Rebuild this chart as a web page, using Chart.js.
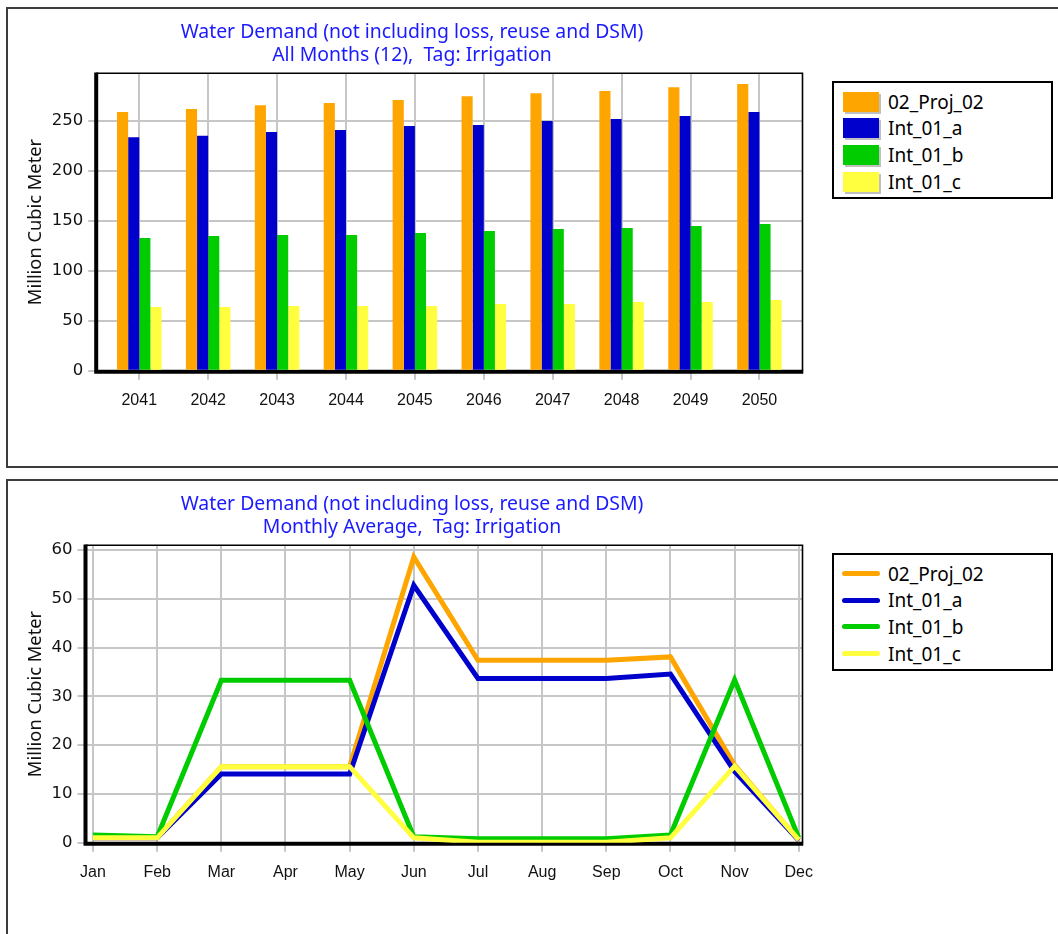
<!DOCTYPE html>
<html>
<head>
<meta charset="utf-8">
<script src="https://cdn.jsdelivr.net/npm/chart.js@4.4.1/dist/chart.umd.min.js"></script>
<style>
  body { margin: 0; background: #fff; width: 1058px; height: 934px; overflow: hidden; position: relative; font-family: 'Noto Sans', sans-serif; }
  .panel { position: absolute; left: 6px; width: 1070px; border: 2px solid #3c3c3c; box-sizing: border-box; }
  #panelTop { top: 7px; height: 461px; }
  #panelBottom { top: 479px; height: 480px; }
  canvas { position: absolute; left: 8px; }
  #annualChart { top: 9px; }
  #monthlyChart { top: 481px; }
  .legend { position: absolute; left: 832px; width: 221px; height: 118px; border: 2px solid #000; box-sizing: border-box; background: #fff; }
  #legendTop { top: 81px; }
  #legendBottom { top: 553px; }
  .item { position: absolute; left: 0; height: 26px; line-height: 26px; font-size: 19px; color: #000; white-space: nowrap; }
  .item span.box { position: absolute; left: 9px; top: 3px; width: 36px; height: 20px; box-shadow: 2px 2px 0 #c0c0c0; }
  .item span.line { position: absolute; left: 8px; top: 10.5px; width: 38px; height: 5px; border-radius: 3px; }
  .item span.txt { position: absolute; left: 54px; top: 0; }
</style>
</head>
<body>
<div class="panel" id="panelTop"></div>
<div class="panel" id="panelBottom"></div>
<canvas id="annualChart" width="808" height="456"></canvas>
<canvas id="monthlyChart" width="808" height="456"></canvas>
<div class="legend" id="legendTop"></div>
<div class="legend" id="legendBottom"></div>
<script>
// categories
const years = ['2041', '2042', '2043', '2044', '2045', '2046', '2047', '2048', '2049', '2050'];
const months = ['Jan', 'Feb', 'Mar', 'Apr', 'May', 'Jun', 'Jul', 'Aug', 'Sep', 'Oct', 'Nov', 'Dec'];

const seriesNames = ['02_Proj_02', 'Int_01_a', 'Int_01_b', 'Int_01_c'];
const seriesColors = ['#ffa500', '#0000cc', '#00cc00', '#ffff40'];

// all months (12), million cubic meter
const annualProj02 = [258.8, 261.6, 265.5, 267.6, 270.6, 274.5, 277.5, 279.6, 283.5, 286.6];
const annualInt01a = [233.4, 235.0, 238.7, 240.7, 244.7, 245.7, 249.7, 251.7, 254.7, 258.7];
const annualInt01b = [132.7, 134.7, 135.7, 135.7, 137.7, 139.7, 141.7, 142.7, 144.7, 146.7];
const annualInt01c = [63.7, 63.7, 64.7, 64.7, 64.7, 66.7, 66.7, 68.7, 68.7, 70.7];

// monthly average
const monthlyProj02 = [1.0, 1.0, 15.6, 15.6, 15.6, 58.6, 37.4, 37.4, 37.4, 38.1, 15.9, 0.5];
const monthlyInt01a = [1.0, 1.0, 14.1, 14.1, 14.1, 52.8, 33.7, 33.7, 33.7, 34.6, 14.6, 0.5];
const monthlyInt01b = [1.6, 1.2, 33.3, 33.3, 33.3, 1.2, 0.8, 0.8, 0.8, 1.6, 33.4, 1.0];
const monthlyInt01c = [1.0, 1.0, 15.6, 15.6, 15.6, 1.0, 0.1, 0.1, 0.1, 1.0, 15.7, 0.6];

// axes
const annualMax = 297.4;
const annualStep = 50;
const monthlyMax = 61;
const monthlyStep = 10;

const titleLine1 = 'Water Demand (not including loss, reuse and DSM)';
const titleAnnual = 'All Months (12),  Tag: Irrigation';
const titleMonthly = 'Monthly Average,  Tag: Irrigation';
const yTitle = 'Million Cubic Meter';

// cadre du graphique : bords fins en haut/droite, axes épais à gauche/en bas
const framePlugin = {
  id: 'frame',
  beforeDatasetsDraw(chart) {
    const { ctx, chartArea: a } = chart;
    ctx.save();
    ctx.strokeStyle = '#000';
    ctx.lineWidth = 1.6;
    ctx.beginPath();
    ctx.moveTo(a.left, a.top);
    ctx.lineTo(a.right, a.top);
    ctx.lineTo(a.right, a.bottom);
    ctx.stroke();
    ctx.lineWidth = 4;
    ctx.beginPath();
    ctx.moveTo(a.left, a.top - 0.8);
    ctx.lineTo(a.left, a.bottom + 3);
    ctx.moveTo(a.left - 2, a.bottom + 1);
    ctx.lineTo(a.right + 0.8, a.bottom + 1);
    ctx.stroke();
    ctx.restore();
  }
};

const sidePad = 13.5;

function baseOptions(subtitle, yWidth, yMax, yStep, xStart, xRange) {
  return {
    responsive: false,
    animation: false,
    events: [],
    layout: { padding: { left: sidePad, right: sidePad, top: 0, bottom: 0 } },
    plugins: {
      legend: { display: false },
      tooltip: { enabled: false },
      title: {
        display: true,
        text: [titleLine1, subtitle],
        color: '#1a1aff',
        font: { family: "'Noto Sans'", size: 19.4, weight: 'normal', lineHeight: 1.165 },
        padding: { top: 12.6, bottom: 6.5 }
      }
    },
    scales: {
      x: {
        offset: true,
        border: { display: false },
        grid: { offset: false, color: '#c6c6c6', lineWidth: 2, tickLength: 9 },
        ticks: { autoSkip: false, maxRotation: 0, padding: 11, color: '#111', font: { family: "'Liberation Sans'", size: 16 } },
        afterBuildTicks: s => { s._startValue = xStart; s._valueRange = xRange; },
        afterFit: s => { s.height = 94.3; s.paddingLeft = 0; s.paddingRight = 0; }
      },
      y: {
        min: 0,
        max: yMax,
        border: { display: false },
        grid: { color: '#c6c6c6', lineWidth: 2, tickLength: 8 },
        ticks: { stepSize: yStep, includeBounds: false, padding: 5, color: '#111', font: { family: "'DejaVu Sans'", size: 16.5 } },
        title: { display: true, text: yTitle, color: '#111', font: { family: "'Noto Sans'", size: 18.3 }, padding: { top: 17 - sidePad, bottom: 0 } },
        afterFit: s => { s.width = yWidth - sidePad; s.paddingTop = 0; s.paddingBottom = 0; }
      }
    }
  };
}

const annualSeries = [annualProj02, annualInt01a, annualInt01b, annualInt01c];
new Chart(document.getElementById('annualChart'), {
  type: 'bar',
  data: {
    labels: years,
    datasets: annualSeries.map((d, i) => ({
      label: seriesNames[i],
      data: d,
      backgroundColor: seriesColors[i],
      borderWidth: 0,
      categoryPercentage: 0.646,
      barPercentage: 1
    }))
  },
  options: baseOptions(titleAnnual, 88.2, annualMax, annualStep, -0.625, 10.25),
  plugins: [framePlugin]
});

const monthlySeries = [monthlyProj02, monthlyInt01a, monthlyInt01b, monthlyInt01c];
new Chart(document.getElementById('monthlyChart'), {
  type: 'line',
  data: {
    labels: months,
    datasets: monthlySeries.map((d, i) => ({
      label: seriesNames[i],
      data: d,
      borderColor: seriesColors[i],
      backgroundColor: seriesColors[i],
      borderWidth: 5,
      pointRadius: 0,
      tension: 0,
      fill: false,
      order: monthlySeries.length - 1 - i
    }))
  },
  options: baseOptions(titleMonthly, 77.5, monthlyMax, monthlyStep, -0.117, 11.175),
  plugins: [framePlugin]
});

// légendes encadrées
function buildLegend(id, kind) {
  const box = document.getElementById(id);
  seriesNames.forEach((name, i) => {
    const row = document.createElement('div');
    row.className = 'item';
    row.style.top = (5.5 + i * 26.7) + 'px';
    const sw = document.createElement('span');
    sw.className = kind;
    sw.style.background = seriesColors[i];
    const txt = document.createElement('span');
    txt.className = 'txt';
    txt.textContent = name;
    row.appendChild(sw);
    row.appendChild(txt);
    box.appendChild(row);
  });
}
buildLegend('legendTop', 'box');
buildLegend('legendBottom', 'line');
</script>
</body>
</html>
